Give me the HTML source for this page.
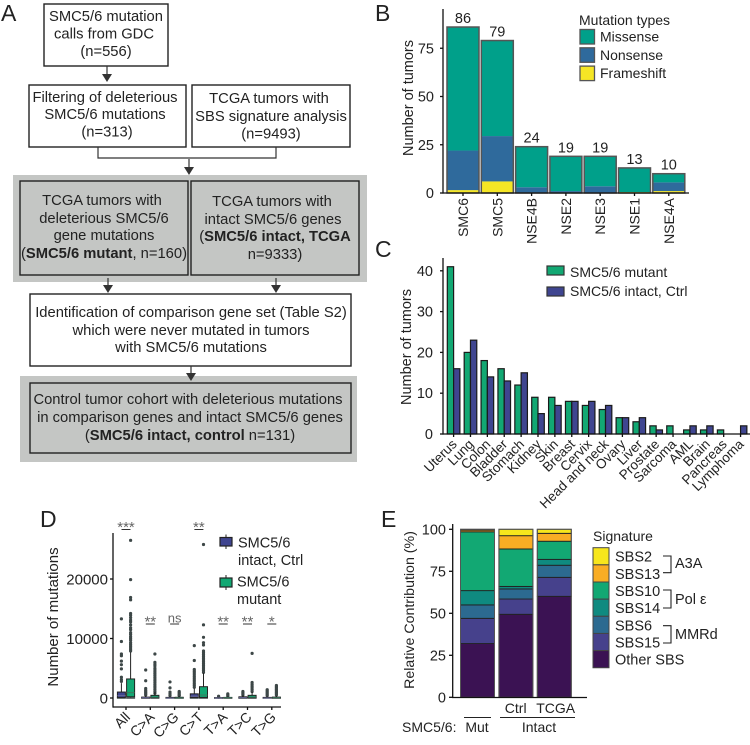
<!DOCTYPE html>
<html>
<head>
<meta charset="utf-8">
<style>
html,body{margin:0;padding:0;background:#fff;width:750px;height:745px;overflow:hidden}
svg{display:block}
text{font-family:"Liberation Sans",sans-serif;fill:#222}
.fc{font-size:14.75px;text-anchor:middle}
.box{fill:#fff;stroke:#222;stroke-width:1.4}
.gbox{fill:#c4c6c4;stroke:#222;stroke-width:1.4}
.gbg{fill:#c4c6c4}
.conn{fill:none;stroke:#333;stroke-width:1.2}
.head{fill:#333}
.letter{font-size:23px}
</style>
</head>
<body>
<svg id="fig" xmlns="http://www.w3.org/2000/svg" width="750" height="745" viewBox="0 0 750 745">
<g id="panel-a">
  <text class="letter" x="1" y="21">A</text>
  <rect class="gbg" x="13" y="175" width="354" height="107"/>
  <rect class="gbg" x="20" y="376" width="337" height="86"/>

  <rect class="box" x="44" y="4" width="124" height="62"/>
  <text class="fc"><tspan x="106" y="21">SMC5/6 mutation</tspan><tspan x="104" y="38.5">calls from GDC</tspan><tspan x="106" y="56">(n=556)</tspan></text>

  <rect class="box" x="29" y="85" width="157" height="62"/>
  <text class="fc"><tspan x="105" y="102">Filtering of deleterious</tspan><tspan x="105" y="119">SMC5/6 mutations</tspan><tspan x="107" y="136.5">(n=313)</tspan></text>

  <rect class="box" x="192" y="85" width="158" height="62"/>
  <text class="fc"><tspan x="269" y="103">TCGA tumors with</tspan><tspan x="271" y="121">SBS signature analysis</tspan><tspan x="271" y="138.5">(n=9493)</tspan></text>

  <rect class="gbox" x="20" y="181" width="168" height="94"/>
  <text class="fc"><tspan x="102" y="205">TCGA tumors with</tspan><tspan x="104" y="223">deleterious SMC5/6</tspan><tspan x="104" y="240">gene mutations</tspan><tspan x="104" y="258">(<tspan font-weight="bold">SMC5/6 mutant</tspan>, n=160)</tspan></text>

  <rect class="gbox" x="191" y="181" width="168" height="94"/>
  <text class="fc"><tspan x="272" y="206">TCGA tumors with</tspan><tspan x="273" y="224">intact SMC5/6 genes</tspan><tspan x="275" y="241">(<tspan font-weight="bold">SMC5/6 intact, TCGA</tspan></tspan><tspan x="275" y="259">n=9333)</tspan></text>

  <rect class="box" x="30" y="294" width="321" height="72"/>
  <text class="fc"><tspan x="191" y="317">Identification of comparison gene set (Table S2)</tspan><tspan x="191" y="335">which were never mutated in tumors</tspan><tspan x="191" y="352">with SMC5/6 mutations</tspan></text>

  <rect class="gbox" x="30" y="383" width="321" height="70"/>
  <text class="fc"><tspan x="188" y="404">Control tumor cohort with deleterious mutations</tspan><tspan x="190" y="422">in comparison genes and intact SMC5/6 genes</tspan><tspan x="190" y="440">(<tspan font-weight="bold">SMC5/6 intact, control</tspan> n=131)</tspan></text>

  <path class="conn" d="M107 66V76"/>
  <path class="head" d="M102 74H112L107 82Z"/>
  <path class="conn" d="M98 147V158H276V147"/>
  <path class="conn" d="M189 159V170"/>
  <path class="head" d="M184 167H194L189 175Z"/>
  <path class="conn" d="M108 278V288M276 278V288"/>
  <path class="head" d="M103 285H113L108 293ZM271 285H281L276 293Z"/>
  <path class="conn" d="M191 366V376"/>
  <path class="head" d="M186 373H196L191 381Z"/>
</g>
<text class="letter" x="375" y="21">B</text>
<text class="letter" x="375" y="257">C</text>
<text class="letter" x="40" y="527">D</text>
<text class="letter" x="381" y="527">E</text>
<g id="panel-b"></g>
<g id="panel-c"></g>
<g id="panel-d"></g>
<g id="panel-e"></g>
<g>
  <path d="M663 556H671V572.7H663" fill="none" stroke="#222" stroke-width="1.1"/>
  <text x="675" y="568" font-size="14.5">A3A</text>
  <path d="M663 590H671V608H663" fill="none" stroke="#222" stroke-width="1.1"/>
  <text x="675" y="604" font-size="14.5">Pol ε</text>
  <path d="M663 625.7H671V643H663" fill="none" stroke="#222" stroke-width="1.1"/>
  <text x="675" y="639" font-size="14.5">MMRd</text>
</g>
</svg>
<script>
// ---------- Panel B data ----------
const bGenes = ["SMC6","SMC5","NSE4B","NSE2","NSE3","NSE1","NSE4A"];
const bFrameshift = [1.5,6,0,0,0,0.5,1];
const bNonsense = [20.5,23.5,3,1,3.5,0,4.5];
const bMissense = [64,49.5,21,18,15.5,12.5,4.5];
const bTotals = [86,79,24,19,19,13,10];
const bTicks = [0,25,50,75];
const bLegend = ["Missense","Nonsense","Frameshift"];

// ---------- Panel C data ----------
const cTypes = ["Uterus","Lung","Colon","Bladder","Stomach","Kidney","Skin","Breast","Cervix","Head and neck","Ovary","Liver","Prostate","Sarcoma","AML","Brain","Pancreas","Lymphoma"];
const cMutant = [41,20,18,16,12,9,9,8,7,6,4,3,2,2,1,1,1,0];
const cControl = [16,23,14,13,15,5,7,8,8,7,4,4,1,0,2,2,0,2];
const cTicks = [0,10,20,30,40];

// ---------- Panel D data ----------
const dCats = ["All","C>A","C>G","C>T","T>A","T>C","T>G"];
const dTicks = [0,10000,20000];
const dSig = ["***","**","ns","**","**","**","*"];
const dCtrlQ1 = [100,0,0,100,0,0,0];
const dCtrlMed = [400,50,0,300,0,50,0];
const dCtrlQ3 = [1000,150,100,700,50,200,100];
const dCtrlHi = [2500,400,250,1600,120,450,250];
const dMutQ1 = [200,50,0,100,0,50,0];
const dMutMed = [900,150,30,500,50,150,50];
const dMutQ3 = [3200,450,120,1900,100,450,150];
const dMutHi = [7700,1000,300,4200,250,1000,350];
const dCtrlOut = [
 [13300,9500,7400,7100,6200,5600,4900,3500,3100,2800],
 [4700,2900,1600,1300,1100,900,700,500],
 [2700,1700,1000,700,400],
 [8800,6300,4800,4500,4200,3900,3600,3300,3000,2700,2400,2100,1800],
 [300,150],
 [1100,900,700,500],
 [1400,1200,1000,800,600,400]];
const dMutOut = [
 [26500,19900,16900,16500,14200,13900,13500,13100,12800,12300,11800,11500,11000,10700,10300,10000,9700,9300,9000,8700,8400,8100,7900],
 [7400,6000,5700,5400,5000,4700,4400,4100,3800,3500,3200,2900,2600,2300,2000,1700,1400,1100,800],
 [1100,900,700,500,400],
 [25800,12300,10200,9300,8900,7900,7600,7300,7000,6700,6400,6100,5800,5500,5200,4900,4600,4300],
 [700,500,300],
 [7500,2600,2300,2000,1700,1400,1100],
 [2100,1900,1700,1500,1300,1100,900,700,500]];

// ---------- Panel E data ----------
const eBars = ["Mut","Ctrl","TCGA"];
const eOther = [32,49.4,60.1];
const eSBS15 = [15,9.1,11.3];
const eSBS6 = [8,6,7.2];
const eSBS14 = [8.5,1.5,3.5];
const eSBS10 = [35,22.3,10.8];
const eSBS13 = [1,7.9,4.7];
const eSBS2 = [0.5,3.8,2.4];
const eTicks = [0,25,50,75,100];
const eLegend = ["SBS2","SBS13","SBS10","SBS14","SBS6","SBS15","Other SBS"];

const NS = "http://www.w3.org/2000/svg";
function mk(tag,parent){const e=document.createElementNS(NS,tag);parent.appendChild(e);return e;}
function rect(p,x,y,w,h,fill,stroke,sw){const e=mk("rect",p);e.setAttribute("x",x);e.setAttribute("y",y);e.setAttribute("width",w);e.setAttribute("height",h);e.setAttribute("fill",fill);if(stroke){e.setAttribute("stroke",stroke);e.setAttribute("stroke-width",sw||1);}return e;}
function line(p,x1,y1,x2,y2,c,sw){const e=mk("line",p);e.setAttribute("x1",x1);e.setAttribute("y1",y1);e.setAttribute("x2",x2);e.setAttribute("y2",y2);e.setAttribute("stroke",c||"#111");e.setAttribute("stroke-width",sw||1.3);return e;}
function txt(p,s,x,y,anchor,size,rot){const e=mk("text",p);e.textContent=s;e.setAttribute("x",x);e.setAttribute("y",y);e.setAttribute("text-anchor",anchor||"start");e.setAttribute("font-size",size||14);if(rot!==undefined)e.setAttribute("transform","rotate("+rot+" "+x+" "+y+")");return e;}

// ---------- Panel B ----------
(function(){
 const g=document.getElementById("panel-b");
 const y0=193,pxPerUnit=1.93,x0=447,step=34.3,bw=32;
 const Y=v=>y0-v*pxPerUnit;
 const X=i=>x0+i*step;
 const stackCols=["#f5e625","#2f6a9c","#00a08a"];
 const layers=[bFrameshift,bNonsense,bMissense];
 const layerNames=["frameshift","nonsense","missense"];
 bGenes.forEach((name,i)=>{
  let acc=0;
  layers.forEach((arr,k)=>{
   const v=arr[i];
   if(v>0){
    const r=rect(g,X(i),Y(acc+v),bw,v*pxPerUnit,stackCols[k]);
    
    
    r.setAttribute('data-series',layerNames[k]);
   }
   acc+=v;
  });
  const o=rect(g,X(i),Y(bTotals[i]),bw,bTotals[i]*pxPerUnit,"none","#555",1.5);
  
  
  const t=txt(g,String(bTotals[i]),X(i)+bw/2,Y(bTotals[i])-4,"middle",14.5);
  
  
  const tk=line(g,X(i)+bw/2,y0,X(i)+bw/2,y0+3);
  
  
  const l=txt(g,name,X(i)+bw/2+5,198,"end",14,-90);
  
  
 });
 bTicks.forEach(v=>{
  const tk=line(g,440,Y(v),443,Y(v));
  
  
  const t=txt(g,String(v),434,Y(v)+5,"end",14.5);
  
  
 });
 const ax=line(g,443,9,443,193.6);
 
 
 const ax2=line(g,443,193,689,193);
 
 
 const yt=txt(g,"Number of tumors",413,98,"middle",14.5,-90);
 
 
 const lt=txt(g,"Mutation types",579,25,"start",14);
 
 
 const lc=["#00a08a","#2f6a9c","#f5e625"];
 bLegend.forEach((s,i)=>{
  const yy=29.5+i*18.3;
  const r=rect(g,580,yy,14.5,14.5,lc[i],"#555",1.3);
  
  
  const t=txt(g,s,600,yy+12,"start",14);
  
  
 });
})();

// ---------- Panel C ----------
(function(){
 const g=document.getElementById("panel-c");
 const y0=434,pxPerUnit=4.08,tx0=453.6,step=16.88,bw=6.3;
 const Y=v=>y0-v*pxPerUnit;
 const X=i=>tx0+i*step;
 cTypes.forEach((name,i)=>{
  const a=rect(g,X(i)-bw,Y(cMutant[i]),bw,cMutant[i]*pxPerUnit,"#12a873","#1a1a1a",1.2);
  
  
  const b=rect(g,X(i),Y(cControl[i]),bw,cControl[i]*pxPerUnit,"#3f4590","#1a1a1a",1.2);
  
  
  const tk=line(g,X(i),y0,X(i),y0+3);
  
  
  const l=txt(g,name,X(i)+4,445,"end",13.5,-45);
  
  
 });
 cTicks.forEach(v=>{
  const tk=line(g,440,Y(v),443,Y(v));
  
  
  const t=txt(g,String(v),433,Y(v)+5,"end",14.5);
  
  
 });
 const ax=line(g,443,258,443,434.6);
 
 
 const ax2=line(g,443,434,750,434);
 
 
 const yt=txt(g,"Number of tumors",411,347,"middle",14.5,-90);
 
 
 const k1=rect(g,547,266,17,9,"#12a873","#333",1.2);
 
 
 const k2=rect(g,547,287,17,9,"#3f4590","#333",1.2);
 
 
 const t1=txt(g,"SMC5/6 mutant",570,277,"start",14);
 
 
 const t2=txt(g,"SMC5/6 intact, Ctrl",570,296,"start",14);
 
 
})();

// ---------- Panel D ----------
(function(){
 const g=document.getElementById("panel-d");
 const y0=698,pxPerUnit=0.00595,tx0=126,step=24.3,bw=8;
 const Y=v=>y0-v*pxPerUnit;
 const X=i=>tx0+i*step;
 function drawBox(cx,q1,med,q3,hi,outs,fill,medc,nameBase){
  outs.forEach(v=>{
   const c=mk("circle",g);
   c.setAttribute("cx",cx);
   c.setAttribute("cy",Y(v));
   c.setAttribute("r",1.6);
   c.setAttribute("fill","#3d4747");
   
   
  });
  const w=line(g,cx,Y(hi),cx,Y(0),"#222",1);
  
  
  const base=line(g,cx-bw/2-0.5,y0,cx+bw/2+0.5,y0,"#4a5555",1.6);
  
  
  const r=rect(g,cx-bw/2,Y(q3),bw,Math.max(0.4,(q3-q1)*pxPerUnit),fill,"#222",1);
  
  
  r.setAttribute('data-series',nameBase);
  const m=line(g,cx-bw/2,Y(med),cx+bw/2,Y(med),medc,1);
  
  
 }
 dCats.forEach((name,i)=>{
  drawBox(X(i)-4.6,dCtrlQ1[i],dCtrlMed[i],dCtrlQ3[i],dCtrlHi[i],dCtrlOut[i],"#3f4590","#6a6a9a","control");
  drawBox(X(i)+4.6,dMutQ1[i],dMutMed[i],dMutQ3[i],dMutHi[i],dMutOut[i],"#12a873","#3d7a60","mutant");
  const tk=line(g,X(i),707,X(i),710);
  
  
  const l=txt(g,name,X(i)+5,718,"end",14,-45);
  
  
  const high=(i===0||i===3);
  const by=high?529.5:624;
  const bar=line(g,X(i)-4.5,by,X(i)+4.5,by,"#333",1);
  
  
  const isNs=dSig[i]==="ns";
  const s=txt(g,dSig[i],X(i),isNs?by-1.5:by+2.5,"middle",isNs?13:15);
  s.setAttribute("style","fill:#666");
  
  
 });
 dTicks.forEach(v=>{
  const tk=line(g,110,Y(v),113,Y(v));
  
  
  const t=txt(g,String(v),108,Y(v)+5.5,"end",15);
  
  
 });
 const ax=line(g,113,533,113,707.6);
 
 
 const ax2=line(g,113,707,281,707);
 
 
 const yt=txt(g,"Number of mutations",58,617,"middle",15,-90);
 
 
 const w1=line(g,226,534.5,226,549,"#222",1);
 
 
 const k1=rect(g,220,537.5,12,8.5,"#3f4590","#222",1.2);
 
 
 const w2=line(g,226,575,226,590,"#222",1);
 
 
 const k2=rect(g,220,578,12,9,"#12a873","#222",1.2);
 
 
 const a1=txt(g,"SMC5/6",238,547.5,"start",14.5);
 
 
 const a2=txt(g,"intact, Ctrl",238,565,"start",14.5);
 
 
 const b1=txt(g,"SMC5/6",237,586.5,"start",14.5);
 
 
 const b2=txt(g,"mutant",237,604,"start",14.5);
 
 
})();

// ---------- Panel E ----------
(function(){
 const g=document.getElementById("panel-e");
 const y0=697.3,pxPerUnit=1.68,x0=460.5,step=38.4,bw=34;
 const Y=v=>y0-v*pxPerUnit;
 const X=i=>x0+i*step;
 const layers=[eOther,eSBS15,eSBS6,eSBS14,eSBS10,eSBS13,eSBS2];
 const cols=["#3b1253","#46418c","#2c6a90","#0f8a80","#12a873","#f9ad24","#f7e61c"];
 eBars.forEach((name,i)=>{
  let acc=0;
  layers.forEach((arr,k)=>{
   const v=arr[i];
   const r=rect(g,X(i),Y(acc+v),bw,v*pxPerUnit,cols[k],"#222",0.9);
   
   
   acc+=v;
  });
  const o=rect(g,X(i),Y(acc),bw,acc*pxPerUnit,"none","#555",1);
  
  
 });
 eTicks.forEach(v=>{
  const tk=line(g,449,Y(v),452.7,Y(v));
  
  
  const t=txt(g,String(v),446,Y(v)+5,"end",14.5);
  
  
 });
 const ax=line(g,452.7,524,452.7,698);
 
 
 const ax2=line(g,452,697.5,587,697.5);
 
 
 const yt=txt(g,"Relative Contribution (%)",414,610,"middle",14.2,-90);
 
 
 const lt=txt(g,"Signature",593,541,"start",14);
 
 
 eLegend.forEach((s,i)=>{
  const yy=547.7+i*17.15;
  const r=rect(g,593,yy,16,17.15,cols[6-i],"#444",1);
  
  
  const t=txt(g,s,615,yy+14,"start",14.5);
  
  
 });
 const c1=txt(g,"Ctrl",515.7,713,"middle",14);
 
 
 const c2=txt(g,"TCGA",555.7,713,"middle",14);
 
 
 const u1=line(g,464,717.5,491,717.5,"#222",1);
 
 
 const u2=line(g,500,717.5,575,717.5,"#222",1);
 
 
 const s1=txt(g,"SMC5/6:",402,732,"start",14);
 
 
 const s2=txt(g,eBars[0],477,732,"middle",14);
 
 
 const s3=txt(g,"Intact",539,732,"middle",14);
 
 
})();
</script>
</body>
</html>
